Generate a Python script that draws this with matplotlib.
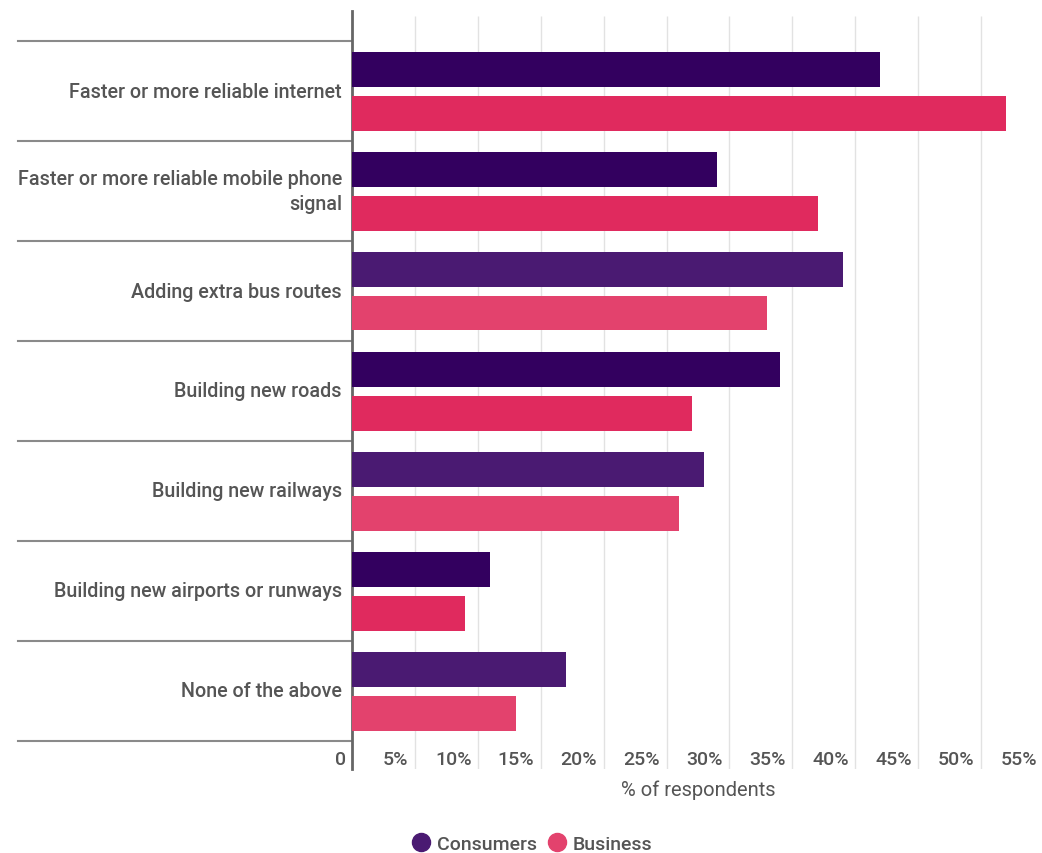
import numpy as np
import matplotlib.pyplot as plt
from matplotlib.lines import Line2D

plt.rcParams['font.family'] = ['Roboto', 'DejaVu Sans']

categories = [
    "Faster or more reliable internet",
    "Faster or more reliable mobile phone\nsignal",
    "Adding extra bus routes",
    "Building new roads",
    "Building new railways",
    "Building new airports or runways",
    "None of the above",
]
consumers = [42, 29, 39, 34, 28, 11, 17]
business = [52, 37, 33, 27, 26, 9, 13]
xticks = [0, 5, 10, 15, 20, 25, 30, 35, 40, 45, 50, 55]
xtick_labels = ["0"] + [f"{v}%" for v in xticks[1:]]

# two shades per series, the lighter one used on some rows
purple_dark, purple_light = "#33005f", "#4a1a72"
pink_dark, pink_light = "#e02a5e", "#e3426d"
light_rows = [2, 4, 6]

text_col = "#555555"

fig = plt.figure(figsize=(10.42, 8.54), dpi=100)
ax = fig.add_axes([352 / 1042, 84 / 854, 692 / 1042, 758 / 854])

y = np.arange(len(categories))
c_cols = [purple_light if i in light_rows else purple_dark for i in y]
b_cols = [pink_light if i in light_rows else pink_dark for i in y]
ax.barh(y + 0.28, consumers, height=0.35, color=c_cols, zorder=3)
ax.barh(y + 0.72, business, height=0.35, color=b_cols, zorder=3)

ax.set_xlim(0, 55)
ax.set_ylim(7.28, -0.3)

# vertical gridlines
ax.vlines(xticks[1:], -0.25, 7.28, color="#e2e2e2", lw=1, zorder=1)

# tick labels sit just left of each gridline
for v, lab in zip(xticks, xtick_labels):
    ax.text(v - 0.5, 7.18, lab, ha="right", va="center", fontsize=14,
            fontweight="medium", color=text_col)

ax.text(27.5, 7.48, "% of respondents", ha="center", va="center",
        fontsize=14.5, color=text_col, clip_on=False)

# category separators and labels on the left
trans = ax.get_yaxis_transform()
for i in range(len(categories) + 1):
    ax.add_line(Line2D([-334 / 692, 0], [i, i], transform=trans,
                       color="#8a8a8a", lw=1.5, clip_on=False))
for i, lab in enumerate(categories):
    ax.text(-10 / 692, i + 0.5, lab, transform=trans, ha="right",
            va="center", fontsize=14.2, fontweight="medium",
            color=text_col, linespacing=1.45)

for s in ["top", "right", "bottom"]:
    ax.spines[s].set_visible(False)
ax.spines["left"].set_color("#666666")
ax.spines["left"].set_linewidth(2)
ax.set_xticks([])
ax.set_yticks([])

handles = [
    Line2D([], [], marker="o", ls="", markersize=13, color=purple_light),
    Line2D([], [], marker="o", ls="", markersize=13, color=pink_light),
]
fig.legend(handles, ["Consumers", "Business"], loc="center",
           bbox_to_anchor=(531 / 1042, 1 - 845 / 854), ncol=2, frameon=False,
           labelcolor=text_col, handletextpad=0.2,
           columnspacing=0.45, handlelength=1.2,
           prop={"weight": "medium", "size": 14})

fig.savefig("out.png", dpi=100)
